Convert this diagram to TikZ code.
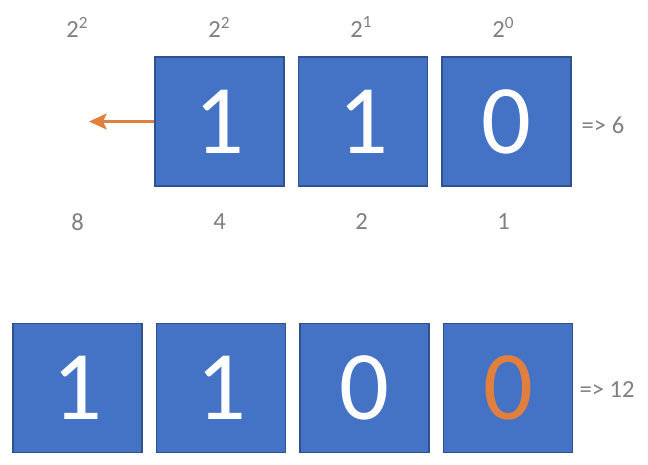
\documentclass[tikz,border=0pt]{standalone}
\usepackage{fontspec}
\setmainfont{Carlito}
\usepackage{xcolor}
\usepackage{tikz}
\usetikzlibrary{positioning,arrows.meta}

\definecolor{bitblue}{HTML}{4472C4}
\definecolor{bitedge}{HTML}{2F528F}
\definecolor{shiftorange}{HTML}{E07F3E}
\definecolor{lblgray}{HTML}{7F7F7F}

\begin{document}
\begin{tikzpicture}[x=0.02cm,y=-0.02cm,node distance=0.26cm]
	\tikzstyle{bit}=[draw=bitedge,fill=bitblue,line width=0.9pt,minimum size=2.58cm,inner sep=0pt,text=white,font=\fontsize{56}{60}\selectfont]
	\tikzstyle{lbl}=[text=lblgray,inner sep=0pt,font=\fontsize{14}{16}\selectfont]

	\useasboundingbox (0,0) rectangle (648,464);

	% value 6
	\node[bit] (a1) at (219.5,121.5) {1};
	\node[bit] (a2) [right=of a1] {1};
	\node[bit] (a3) [right=of a2] {0};
	\node[lbl] (res6) at (603,125) {=> 6};

	% weights
	\node[lbl] (w3) at (77.5,27)  {2\textsuperscript{2}};
	\node[lbl] (w2) at (219.5,27) {2\textsuperscript{2}};
	\node[lbl] (w1) at (361.5,27) {2\textsuperscript{1}};
	\node[lbl] (w0) at (503.5,27) {2\textsuperscript{0}};
	\node[lbl] (v3) at (77.5,222)  {8};
	\node[lbl] (v2) at (219.5,222) {4};
	\node[lbl] (v1) at (361.5,222) {2};
	\node[lbl] (v0) at (503.5,222) {1};

	% shift
	\coordinate (out) at (89,121.5);
	\draw[shiftorange,line width=1.7pt,-{Stealth[length=10pt,width=9pt,inset=2pt]}] (a1.west) -- (out);

	% value 12
	\node[bit] (b1) at (77.5,388) {1};
	\node[bit] (b2) [right=of b1] {1};
	\node[bit] (b3) [right=of b2] {0};
	\node[bit,text=shiftorange] (b4) [right=of b3] {0};
	\node[lbl] (res12) at (607,390) {=> 12};

\end{tikzpicture}
\end{document}
